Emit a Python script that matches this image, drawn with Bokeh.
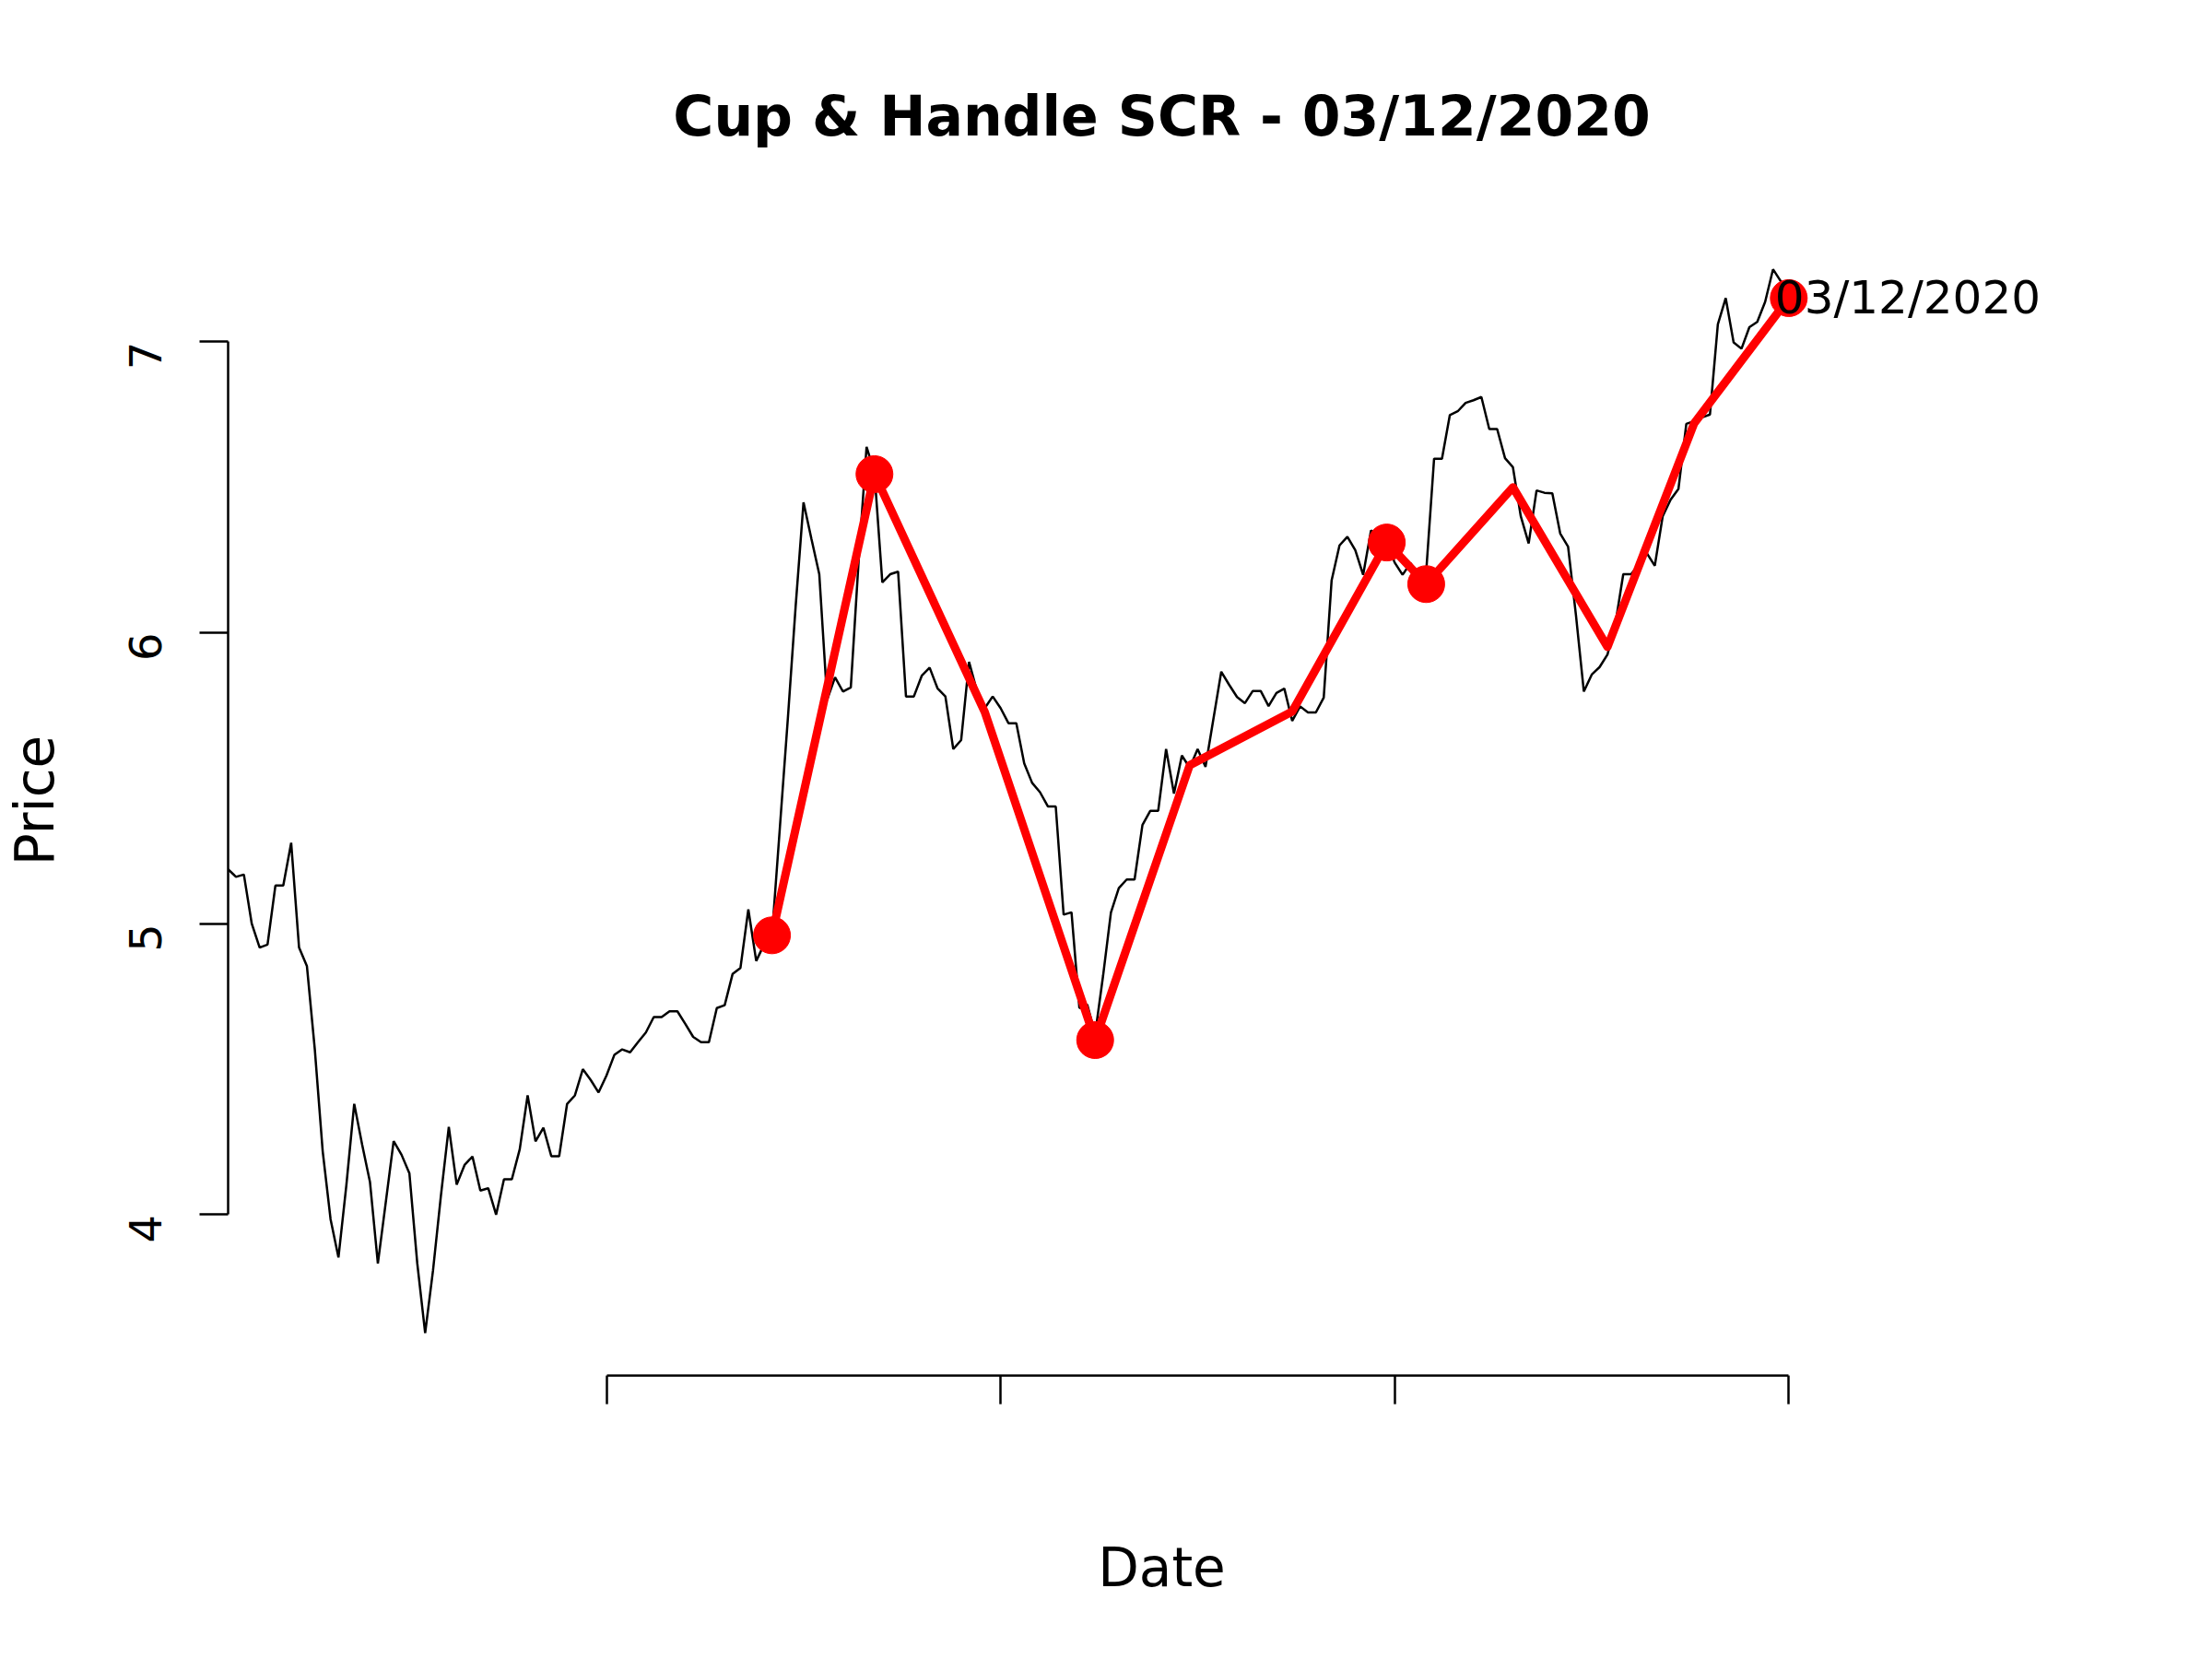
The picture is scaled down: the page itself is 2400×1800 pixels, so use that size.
import math
from bokeh.plotting import figure
from bokeh.models import Range1d, FixedTicker, ColumnDataSource, Label
from bokeh.embed import file_html
from bokeh.resources import INLINE

# ---- data ----
prices = [
    5.187, 5.161, 5.169, 5.00, 4.918, 4.928, 5.131, 5.131, 5.278, 4.918,
    4.854, 4.568, 4.218, 3.984, 3.853, 4.101, 4.381, 4.241, 4.112, 3.832,
    4.042, 4.253, 4.206, 4.142, 3.832, 3.593, 3.809, 4.066, 4.302, 4.103,
    4.171, 4.200, 4.083, 4.091, 4.000, 4.122, 4.122, 4.225, 4.410, 4.252,
    4.299, 4.201, 4.201, 4.380, 4.410, 4.500, 4.463, 4.420, 4.478, 4.549,
    4.568, 4.558, 4.593, 4.626, 4.679, 4.679, 4.699, 4.699, 4.656, 4.611,
    4.593, 4.593, 4.710, 4.720, 4.827, 4.848, 5.049, 4.872, 4.929, 4.960,
    5.330, 5.700, 6.090, 6.448, 6.323, 6.201, 5.770, 5.847, 5.798, 5.812,
    6.250, 6.639, 6.550, 6.173, 6.201, 6.210, 5.781, 5.781, 5.852, 5.880,
    5.809, 5.781, 5.600, 5.631, 5.900, 5.800, 5.741, 5.781, 5.741, 5.689,
    5.689, 5.551, 5.484, 5.452, 5.403, 5.403, 5.031, 5.039, 4.710, 4.722,
    4.620, 4.820, 5.038, 5.122, 5.152, 5.152, 5.339, 5.388, 5.388, 5.600,
    5.447, 5.578, 5.536, 5.600, 5.539, 5.703, 5.866, 5.821, 5.779, 5.758,
    5.800, 5.800, 5.748, 5.793, 5.808, 5.697, 5.747, 5.726, 5.726, 5.777,
    6.180, 6.300, 6.330, 6.284, 6.199, 6.352, 6.330, 6.310, 6.241, 6.199,
    6.239, 6.200, 6.210, 6.598, 6.598, 6.748, 6.761, 6.790, 6.799, 6.810,
    6.700, 6.700, 6.600, 6.569, 6.400, 6.307, 6.489, 6.481, 6.479, 6.341,
    6.296, 6.060, 5.798, 5.856, 5.882, 5.925, 6.030, 6.201, 6.201, 6.236,
    6.273, 6.230, 6.400, 6.457, 6.494, 6.718, 6.727, 6.740, 6.750, 7.060,
    7.150, 6.998, 6.976, 7.050, 7.068, 7.137, 7.249, 7.207, 7.150,
]
days = list(range(len(prices)))

# zig-zag pattern line (day index, price)
pattern_days = [69, 82, 96, 110, 122, 135, 147, 152, 163, 175, 186, 198]
pattern_prices = [4.96, 6.545, 5.727, 4.60, 5.545, 5.729, 6.31, 6.167, 6.50, 5.951, 6.72, 7.15]

# highlighted pattern points
marker_days = [69, 82, 110, 147, 152, 198]
marker_prices = [4.96, 6.545, 4.60, 6.31, 6.167, 7.15]

x_ticks = [48, 98, 148, 198]
y_ticks = [4, 5, 6, 7]
title_text = "Cup & Handle SCR - 03/12/2020"
annot_text = "03/12/2020"

FONT = "DejaVu Sans"

p = figure(
    width=2384, height=1784,
    output_backend="svg", toolbar_location=None,
    x_range=Range1d(0, 236.9), y_range=Range1d(3.447, 7.40),
    min_border_left=246, min_border_right=111,
    min_border_top=244, min_border_bottom=292,
    title=title_text,
)
p.background_fill_color = "white"
p.border_fill_color = "white"
p.outline_line_color = None
p.xgrid.grid_line_color = None
p.ygrid.grid_line_color = None

# title
p.title.text_font = FONT
p.title.text_font_size = "60px"
p.title.text_font_style = "bold"
p.title.align = "center"
p.title.text_color = "black"
p.title.standoff = 168

# x axis
xa = p.xaxis[0]
xa.ticker = FixedTicker(ticks=x_ticks)
xa.bounds = (x_ticks[0], x_ticks[-1])
xa.major_label_overrides = {t: "" for t in x_ticks}
xa.minor_tick_line_color = None
xa.major_tick_out = 31
xa.major_tick_in = 0
xa.axis_line_width = 2.5
xa.major_tick_line_width = 2.5
xa.axis_line_color = "black"
xa.major_tick_line_color = "black"
xa.major_label_standoff = 0
xa.axis_label = "Date"
xa.axis_label_text_font = FONT
xa.axis_label_text_font_size = "58px"
xa.axis_label_text_font_style = "normal"
xa.axis_label_text_color = "black"
xa.axis_label_standoff = 143

# y axis
ya = p.yaxis[0]
ya.ticker = FixedTicker(ticks=y_ticks)
ya.bounds = (y_ticks[0], y_ticks[-1])
ya.minor_tick_line_color = None
ya.major_tick_out = 31
ya.major_tick_in = 0
ya.axis_line_width = 2.5
ya.major_tick_line_width = 2.5
ya.axis_line_color = "black"
ya.major_tick_line_color = "black"
ya.major_label_orientation = math.pi / 2
ya.major_label_text_font = FONT
ya.major_label_text_font_size = "48px"
ya.major_label_text_color = "black"
ya.major_label_standoff = 59
ya.axis_label = "Price"
ya.axis_label_text_font = FONT
ya.axis_label_text_font_size = "58px"
ya.axis_label_text_font_style = "normal"
ya.axis_label_text_color = "black"
ya.axis_label_text_line_height = 1.0
ya.axis_label_standoff = 48

# price line
src = ColumnDataSource(dict(x=days, y=prices))
p.line("x", "y", source=src, line_color="black", line_width=2.5)

# pattern
psrc = ColumnDataSource(dict(x=pattern_days, y=pattern_prices))
p.line("x", "y", source=psrc, line_color="#ff0000", line_width=9, line_join="round")
msrc = ColumnDataSource(dict(x=marker_days, y=marker_prices))
p.scatter("x", "y", source=msrc, size=40, fill_color="#ff0000", line_color="#ff0000")

# annotation at last point
p.add_layout(Label(
    x=marker_days[-1], y=marker_prices[-1], text=annot_text,
    x_offset=-15, text_align="left", text_baseline="middle",
    text_font=FONT, text_font_size="50px", text_color="black",
))

open("out.html", "w").write(file_html(p, INLINE))
